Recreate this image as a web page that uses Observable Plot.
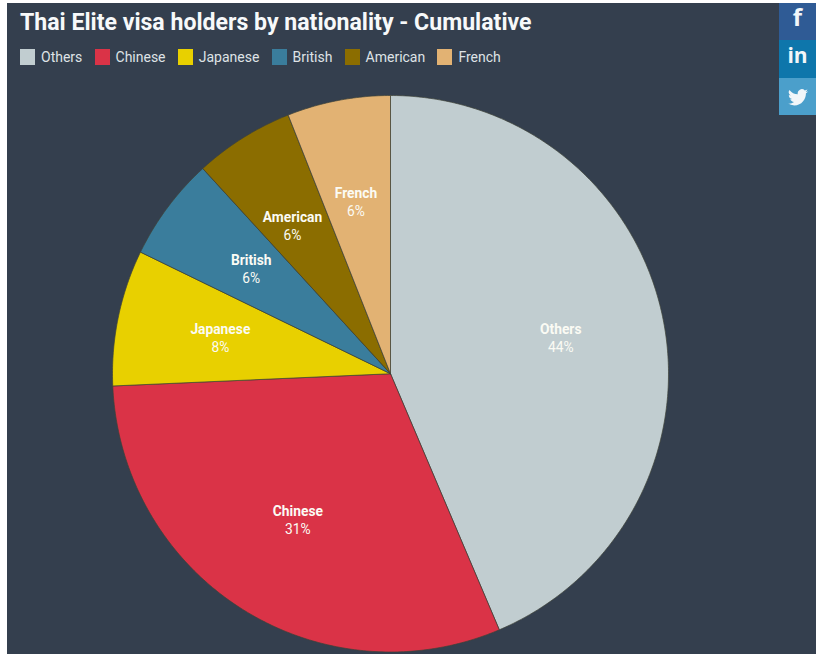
<!DOCTYPE html>
<html>
<head>
<meta charset="utf-8">
<script src="https://cdn.jsdelivr.net/npm/d3@7"></script>
<script src="https://cdn.jsdelivr.net/npm/@observablehq/plot@0.6"></script>
<style>
  html, body { margin: 0; padding: 0; background: #fff; }
  body { width: 820px; height: 654px; position: relative; overflow: hidden; font-family: Roboto, sans-serif; }
  #panel { position: absolute; left: 7px; top: 3px; width: 809px; height: 651px; background: #343f4e; }
  #title { position: absolute; left: 20px; top: 9px; font-size: 23.1px; line-height: 28px; font-weight: 700; color: #f7f9fa; margin: 0; white-space: nowrap; }
  #legend { position: absolute; left: 20px; top: 49px; display: flex; font-size: 14px; line-height: 16px; color: #dfe3e6; }
  #legend .item { display: flex; align-items: center; margin-right: 12.2px; }
  #legend .sw { width: 15px; height: 16px; margin-right: 6px; }
  #chart { position: absolute; left: 0; top: 80px; }
  #chart svg { background: transparent; display: block; }
  .social { position: absolute; left: 779px; width: 37px; display: flex; align-items: center; justify-content: center; color: #f2f6f9; font-weight: 700; font-family: "Open Sans", sans-serif; }
</style>
</head>
<body>
<div id="panel"></div>
<h1 id="title">Thai Elite visa holders by nationality - Cumulative</h1>
<div id="legend"></div>
<div id="chart"></div>
<div class="social" style="top:3px;height:37px;background:#2f5b95;font-size:24px;align-items:flex-start;line-height:28px">f</div>
<div class="social" style="top:40px;height:38px;background:#0e76ab;font-size:21px;align-items:flex-start;line-height:30px">in</div>
<div class="social" style="top:78px;background:#4b9fcb;padding-top:1px;height:36px">
  <svg width="20" height="17" viewBox="0 0 24 20"><path fill="#f2f6f9" d="M24 2.4a9.8 9.8 0 0 1-2.8.8A4.9 4.9 0 0 0 23.3.5a9.8 9.8 0 0 1-3.1 1.2 4.9 4.9 0 0 0-8.4 4.5A14 14 0 0 1 1.7.9a4.9 4.9 0 0 0 1.5 6.6 4.9 4.9 0 0 1-2.2-.6v.1a4.9 4.9 0 0 0 3.9 4.8 4.9 4.9 0 0 1-2.2.1 4.9 4.9 0 0 0 4.6 3.4A9.9 9.9 0 0 1 0 17.3 14 14 0 0 0 7.5 19.5c9 0 14-7.5 14-14v-.6A10 10 0 0 0 24 2.4z"/></svg>
</div>
<script>
const names = ["Others", "Chinese", "Japanese", "British", "American", "French"];
const values = [43.6, 30.7, 7.9, 6.0, 5.8, 6.0];
const percentLabels = ["44%", "31%", "8%", "6%", "6%", "6%"];
const colors = ["#c1cdd0", "#da3347", "#e8d000", "#3a7d9c", "#8b6d00", "#e2b273"];

const legend = d3.select("#legend");
names.forEach((n, i) => {
  const it = legend.append("div").attr("class", "item");
  it.append("div").attr("class", "sw").style("background", colors[i]);
  it.append("span").text(n);
});

const total = d3.sum(values);
const cum = d3.cumsum(values);
const rows = names.map((name, i) => ({
  name,
  value: values[i],
  label: percentLabels[i],
  start: ((i ? cum[i - 1] : 0) / total) * 2 * Math.PI,
  end: (cum[i] / total) * 2 * Math.PI
}));

// Each slice outline is derived from its value
const outline = rows.flatMap((r) => {
  const n = Math.max(2, Math.ceil((r.end - r.start) * 90));
  const arc = d3.range(n + 1).map((k) => {
    const a = r.start + ((r.end - r.start) * k) / n;
    return { name: r.name, x: Math.sin(a), y: Math.cos(a) };
  });
  const hub = { name: r.name, x: 0, y: 0 };
  return [hub, ...arc, hub];
});

const labelRadius = 0.625;
const labelNudge = { American: -0.021, French: -0.007 };
const labelX = (r) => labelRadius * Math.sin((r.start + r.end) / 2) + (labelNudge[r.name] || 0);
const labelY = (r) => labelRadius * Math.cos((r.start + r.end) / 2);

const chart = Plot.plot({
  width: 820,
  height: 574,
  margin: 0,
  style: { background: "transparent", fontFamily: "Roboto, sans-serif" },
  x: { axis: null, domain: [-1, 1], range: [112, 668] },
  y: { axis: null, domain: [-1, 1], range: [571.5, 15] },
  color: { domain: names, range: colors },
  marks: [
    Plot.line(outline, {
      x: "x", y: "y", z: "name", fill: "name",
      stroke: "#3d4238", strokeWidth: 0.7, strokeLinejoin: "round"
    }),
    Plot.text(rows, {
      x: labelX, y: labelY, text: "name", dy: -9,
      fill: "#fbfbf4", fontSize: 13.8, fontWeight: 700
    }),
    Plot.text(rows, {
      x: labelX, y: labelY, text: "label", dy: 9,
      fill: "#fbfbf4", fontSize: 13.8
    })
  ]
});
document.getElementById("chart").append(chart);
</script>
</body>
</html>
